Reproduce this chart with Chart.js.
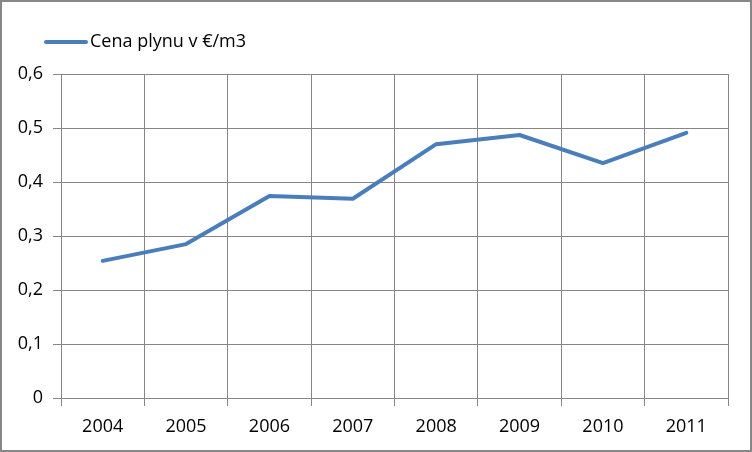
<!DOCTYPE html>
<html>
<head>
<meta charset="utf-8">
<script src="https://cdn.jsdelivr.net/npm/chart.js@4"></script>
<style>
html,body{margin:0;padding:0;background:#fff;}
#wrap{width:752px;height:452px;position:relative;}
</style>
</head>
<body>
<div id="wrap"><canvas id="c" width="752" height="452"></canvas></div>
<script>
const seriesLabel = 'Cena plynu v €/m3';
const years = ['2004','2005','2006','2007','2008','2009','2010','2011'];
const prices = [0.254, 0.285, 0.374, 0.369, 0.470, 0.487, 0.435, 0.491];
const yMin = 0, yMax = 0.6, yStep = 0.1;

const FONT = '"Open Sans", sans-serif';
const GRID = '#868686';
const LINE = '#4a7ebb';

const framePlugin = {
  id: 'frame',
  beforeDraw(chart) {
    const ctx = chart.ctx;
    ctx.save();
    ctx.fillStyle = '#ffffff';
    ctx.fillRect(0, 0, chart.width, chart.height);
    ctx.restore();
  },
  afterDraw(chart) {
    const ctx = chart.ctx;
    ctx.save();
    ctx.strokeStyle = '#878787';
    ctx.lineWidth = 2;
    ctx.strokeRect(1, 1, chart.width - 2, chart.height - 2);
    // legend
    ctx.strokeStyle = LINE;
    ctx.lineWidth = 4;
    ctx.lineCap = 'round';
    ctx.beginPath();
    ctx.moveTo(46, 42);
    ctx.lineTo(86, 42);
    ctx.stroke();
    ctx.fillStyle = '#000';
    ctx.font = '18px ' + FONT;
    ctx.textBaseline = 'middle';
    ctx.textAlign = 'left';
    ctx.fillText(chart.data.datasets[0].label, 90, 42);
    ctx.restore();
  }
};

new Chart(document.getElementById('c'), {
  type: 'line',
  data: {
    labels: years,
    datasets: [{
      label: seriesLabel,
      data: prices,
      borderColor: LINE,
      backgroundColor: LINE,
      borderWidth: 4,
      pointRadius: 0,
      tension: 0,
      borderCapStyle: 'round',
      borderJoinStyle: 'round'
    }]
  },
  options: {
    responsive: false,
    animation: false,
    devicePixelRatio: 1,
    layout: { padding: { top: 74, right: 24, left: 0, bottom: 0 } },
    plugins: { legend: { display: false }, tooltip: { enabled: false } },
    scales: {
      x: {
        offset: true,
        grid: { offset: true, color: GRID, lineWidth: 1, tickLength: 8, drawTicks: true },
        border: { color: GRID, width: 1 },
        ticks: { color: '#000', font: { family: FONT, size: 18 }, padding: 10, maxRotation: 0 },
        afterFit(scale) { scale.height = 54; }
      },
      y: {
        min: yMin, max: yMax,
        grid: { color: GRID, lineWidth: 1, tickLength: 8 },
        border: { color: GRID, width: 1 },
        ticks: {
          stepSize: yStep,
          color: '#000',
          font: { family: FONT, size: 18 },
          padding: 10,
          callback: v => (Math.round(v * 10) / 10).toString().replace('.', ',')
        },
        afterFit(scale) { scale.width = 61; }
      }
    }
  },
  plugins: [framePlugin]
});
</script>
</body>
</html>
